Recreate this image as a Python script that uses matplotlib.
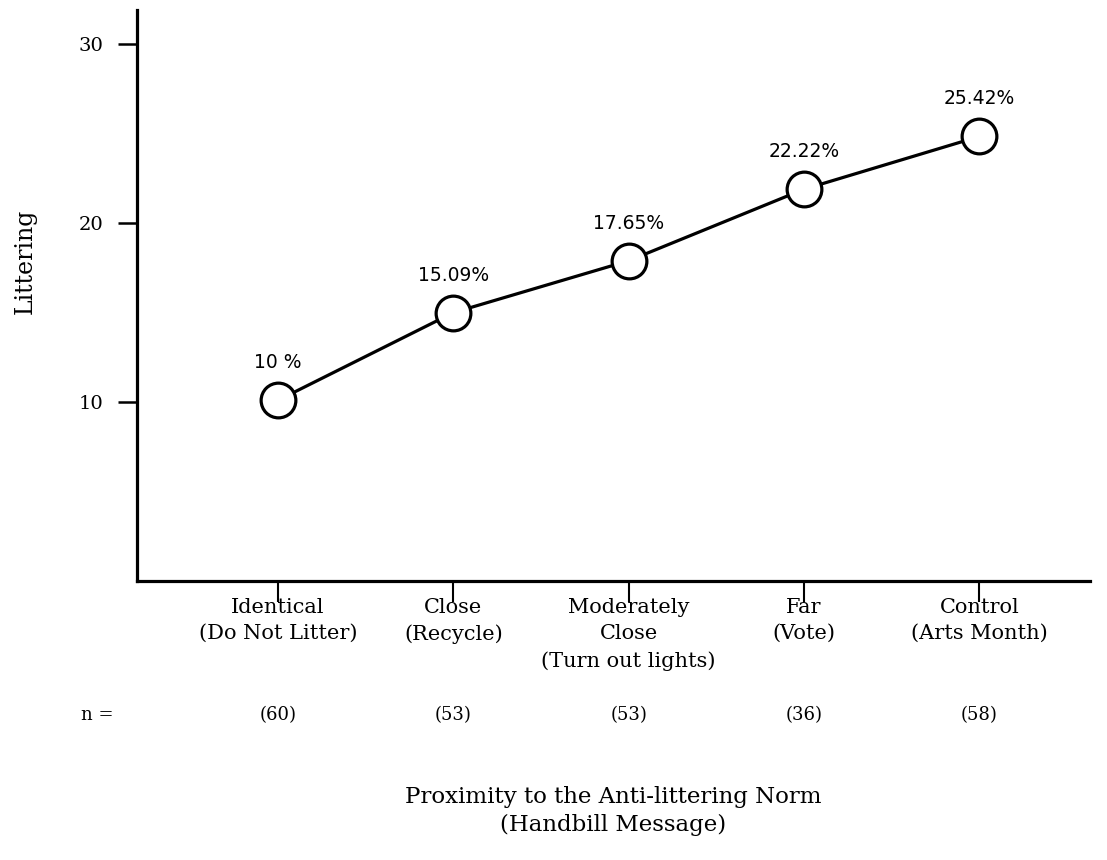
import matplotlib.pyplot as plt
import matplotlib.transforms as mtransforms

# data
categories = ["Identical\n(Do Not Litter)", "Close\n(Recycle)",
              "Moderately\nClose\n(Turn out lights)", "Far\n(Vote)",
              "Control\n(Arts Month)"]
littering = [10.1, 15.0, 17.9, 21.9, 24.85]
pct_labels = ["10 %", "15.09%", "17.65%", "22.22%", "25.42%"]
n_labels = ["(60)", "(53)", "(53)", "(36)", "(58)"]
yticks = [10, 20, 30]

serif = "DejaVu Serif"

fig = plt.figure(figsize=(11.07, 8.6), dpi=100)
ax = fig.add_axes([0.1235, 0.3244, 0.8615, 0.6636])

x = list(range(len(categories)))
ax.plot(x, littering, color="black", lw=2.3, marker="o", ms=25,
        mfc="white", mec="black", mew=2.3, zorder=3)

for xi, yi, lab in zip(x, littering, pct_labels):
    ax.annotate(lab, (xi, yi), xytext=(0, 27), textcoords="offset points",
                ha="center", va="center", fontsize=13.5, family="DejaVu Sans")

ax.set_xlim(-0.805, 4.633)
ax.set_ylim(0, 31.9)
ax.set_yticks(yticks)
ax.set_yticklabels([str(t) for t in yticks], family=serif, fontsize=14)
ax.set_xticks(x)
ax.set_xticklabels(categories, family=serif, fontsize=15, linespacing=1.5)

for s in ["top", "right"]:
    ax.spines[s].set_visible(False)
for s in ["left", "bottom"]:
    ax.spines[s].set_linewidth(2.3)
ax.tick_params(axis="y", direction="out", length=14, width=1.8, pad=10)
ax.tick_params(axis="x", direction="out", length=15, width=1.5, pad=-3)

ax.set_ylabel("Littering", family=serif, fontsize=17)
ax.yaxis.set_label_coords(-0.105, 0.56)

# sample sizes row
trans = mtransforms.blended_transform_factory(ax.transData, fig.transFigure)
for xi, lab in zip(x, n_labels):
    ax.text(xi, 1 - 715 / 860, lab, transform=trans, ha="center", va="center",
            family=serif, fontsize=13)
fig.text(97 / 1107, 1 - 715 / 860, "n =", ha="center", va="center",
         family=serif, fontsize=13)

fig.text(613 / 1107, 1 - 811 / 860,
         "Proximity to the Anti-littering Norm\n(Handbill Message)",
         ha="center", va="center", family=serif, fontsize=16.5, linespacing=1.3)

fig.savefig("out.png", dpi=100)
